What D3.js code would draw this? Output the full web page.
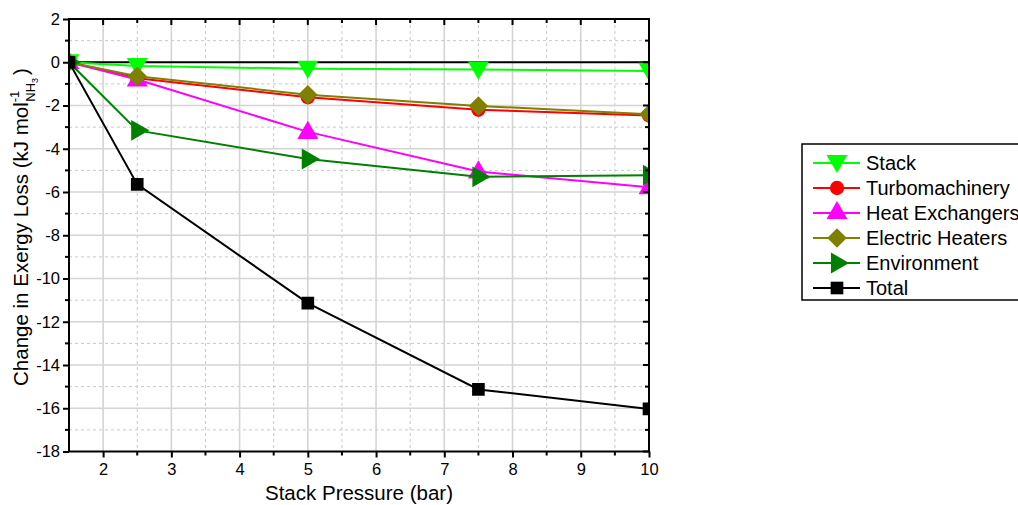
<!DOCTYPE html>
<html><head><meta charset="utf-8">
<script src="https://cdn.jsdelivr.net/npm/d3@7/dist/d3.min.js"></script>
<style>body{margin:0;background:#fff;}text{font-family:"Liberation Sans",Arial,sans-serif;}</style>
</head><body>
<svg id="c" width="1018" height="505"></svg>
<script>
const pressures = [1.5, 2.5, 5, 7.5, 10];
const seriesNames = ["Stack", "Turbomachinery", "Heat Exchangers", "Electric Heaters", "Environment", "Total"];
const stackVals = [0, -0.17, -0.3, -0.34, -0.4];
const turboVals = [0, -0.74, -1.62, -2.2, -2.46];
const heatExVals = [0, -0.8, -3.22, -5.05, -5.78];
const elecHeatVals = [0, -0.65, -1.5, -2.02, -2.4];
const envVals = [0, -3.15, -4.47, -5.3, -5.22];
const totalVals = [0, -5.65, -11.14, -15.13, -16.03];
const xTicks = [2, 3, 4, 5, 6, 7, 8, 9, 10];
const yTicks = [2, 0, -2, -4, -6, -8, -10, -12, -14, -16, -18];

const colors = ["#00ff00", "#ff0000", "#ff00ff", "#808000", "#008000", "#000000"];
const symbols = [d3.symbolTriangle, d3.symbolCircle, d3.symbolTriangle, d3.symbolSquare, d3.symbolTriangle, d3.symbolSquare];
const rotations = [180, 0, 0, 45, 90, 0];
const sizes = [190, 160, 190, 190, 190, 160];
const allVals = [stackVals, turboVals, heatExVals, elecHeatVals, envVals, totalVals];

const svg = d3.select("#c");
const L = 69, R = 649, T = 19, B = 451.5;
const x = d3.scaleLinear().domain([1.5, 10]).range([L, R]);
const y = d3.scaleLinear().domain([-18, 2]).range([B, T]);

svg.append("defs").append("clipPath").attr("id", "clip")
  .append("rect").attr("x", L).attr("y", T).attr("width", R - L).attr("height", B - T);

// grid
const g = svg.append("g");
const xMinor = d3.range(2.5, 10, 1);
const yMinor = d3.range(-17, 2, 2);
g.selectAll(".xm").data(xMinor).join("line").attr("x1", d => x(d)).attr("x2", d => x(d)).attr("y1", T).attr("y2", B)
  .attr("stroke", "#c8c8c8").attr("stroke-width", 1).attr("stroke-dasharray", "3,3");
g.selectAll(".ym").data(yMinor).join("line").attr("y1", d => y(d)).attr("y2", d => y(d)).attr("x1", L).attr("x2", R)
  .attr("stroke", "#c8c8c8").attr("stroke-width", 1).attr("stroke-dasharray", "3,3");
g.selectAll(".xM").data(xTicks.filter(d => d < 10)).join("line").attr("x1", d => x(d)).attr("x2", d => x(d)).attr("y1", T).attr("y2", B)
  .attr("stroke", "#d4d4d4").attr("stroke-width", 1.6);
g.selectAll(".yM").data(yTicks.filter(d => d > -18 && d < 2)).join("line").attr("y1", d => y(d)).attr("y2", d => y(d)).attr("x1", L).attr("x2", R)
  .attr("stroke", "#d4d4d4").attr("stroke-width", 1.6);

// zero line
svg.append("line").attr("x1", L).attr("x2", R).attr("y1", y(0)).attr("y2", y(0)).attr("stroke", "#000").attr("stroke-width", 2);

// series
const plot = svg.append("g").attr("clip-path", "url(#clip)");
const line = d3.line().x((d, i) => x(pressures[i])).y(d => y(d));
allVals.forEach((vals, s) => {
  plot.append("path").datum(vals).attr("d", line).attr("fill", "none").attr("stroke", colors[s]).attr("stroke-width", 2);
  plot.selectAll(null).data(vals).join("path")
    .attr("d", d3.symbol().type(symbols[s]).size(sizes[s]))
    .attr("transform", (d, i) => `translate(${x(pressures[i])},${y(d) + (rotations[s] === 180 ? -2 : (s === 2 ? 1 : 0))}) rotate(${rotations[s]})`)
    .attr("fill", colors[s]);
});

// axes
const axB = d3.axisBottom(x).tickValues(xTicks).tickSize(6).tickSizeOuter(0).tickPadding(6).tickFormat(d3.format("d"));
const axL = d3.axisLeft(y).tickValues(yTicks).tickSize(6).tickSizeOuter(0).tickPadding(3).tickFormat(d => d < 0 ? "-" + Math.abs(d) : d);
const bx = svg.append("g").attr("transform", `translate(0,${B})`).call(axB);
const lx = svg.append("g").attr("transform", `translate(${L},0)`).call(axL);
[bx, lx].forEach(a => { a.selectAll("text").attr("font-size", 16.5).attr("fill", "#000"); a.select(".domain").remove(); a.selectAll(".tick line").attr("stroke-width", 2); });
// minor ticks
svg.selectAll(".bmin").data(xMinor).join("line").attr("x1", d => x(d)).attr("x2", d => x(d)).attr("y1", B).attr("y2", B + 4).attr("stroke", "#000").attr("stroke-width", 2);
svg.selectAll(".lmin").data(yMinor).join("line").attr("y1", d => y(d)).attr("y2", d => y(d)).attr("x1", L).attr("x2", L - 4).attr("stroke", "#000").attr("stroke-width", 2);
// top & right inward ticks
svg.selectAll(".tmaj").data(xTicks).join("line").attr("x1", d => x(d)).attr("x2", d => x(d)).attr("y1", T).attr("y2", T + 6).attr("stroke", "#000").attr("stroke-width", 2);
svg.selectAll(".tmin").data(xMinor).join("line").attr("x1", d => x(d)).attr("x2", d => x(d)).attr("y1", T).attr("y2", T + 4).attr("stroke", "#000").attr("stroke-width", 2);
svg.selectAll(".rmaj").data(yTicks).join("line").attr("y1", d => y(d)).attr("y2", d => y(d)).attr("x1", R).attr("x2", R - 6).attr("stroke", "#000").attr("stroke-width", 2);
svg.selectAll(".rmin").data(yMinor).join("line").attr("y1", d => y(d)).attr("y2", d => y(d)).attr("x1", R).attr("x2", R - 4).attr("stroke", "#000").attr("stroke-width", 2);
// frame
svg.append("rect").attr("x", L).attr("y", T).attr("width", R - L).attr("height", B - T).attr("fill", "none").attr("stroke", "#000").attr("stroke-width", 2);

// axis titles
svg.append("text").attr("x", 359).attr("y", 500).attr("text-anchor", "middle").attr("font-size", 20.5).text("Stack Pressure (bar)");
const yt = svg.append("text").attr("transform", "translate(28,227) rotate(-90)").attr("text-anchor", "middle").attr("font-size", 20.5);
yt.append("tspan").text("Change in Exergy Loss (kJ mol");
yt.append("tspan").attr("font-size", 13).attr("dy", -9).text("-1");
yt.append("tspan").attr("font-size", 13).attr("dx", -11).attr("dy", 16).text("NH");
yt.append("tspan").attr("font-size", 9).attr("dy", 3).text("3");
yt.append("tspan").attr("dx", 3).attr("dy", -10).text(")");

// legend
const lg = svg.append("g");
lg.append("rect").attr("x", 802).attr("y", 144).attr("width", 230).attr("height", 156).attr("fill", "#fff").attr("stroke", "#000").attr("stroke-width", 1.5);
seriesNames.forEach((n, s) => {
  const yy = 163 + s * 25;
  lg.append("line").attr("x1", 813).attr("x2", 860).attr("y1", yy).attr("y2", yy).attr("stroke", colors[s]).attr("stroke-width", 2);
  lg.append("path").attr("d", d3.symbol().type(symbols[s]).size(sizes[s]))
    .attr("transform", `translate(837,${yy + (rotations[s] === 180 ? -2 : 0)}) rotate(${rotations[s]})`).attr("fill", colors[s]);
  lg.append("text").attr("x", 866).attr("y", yy + 7).attr("font-size", 20).text(n);
});
</script>
</body></html>
